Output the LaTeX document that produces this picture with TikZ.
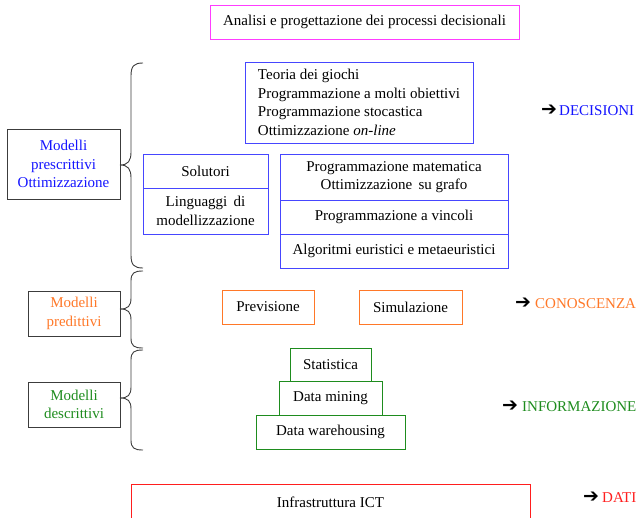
\documentclass[tikz,border=0pt]{standalone}
\usepackage{fontspec}
\setmainfont{Liberation Serif}
\newfontfamily\symfont{DejaVu Sans}
\definecolor{cblue}{RGB}{20,20,255}
\definecolor{bblue}{RGB}{70,70,255}
\definecolor{corange}{RGB}{255,120,40}
\definecolor{cgreen}{RGB}{30,140,30}
\definecolor{cpink}{RGB}{255,60,255}
\definecolor{cred}{RGB}{255,30,30}
\definecolor{cgray}{RGB}{60,60,60}
\begin{document}
\begin{tikzpicture}[x=1pt,y=-1pt,
  every node/.style={font=\fontsize{15}{18.5}\selectfont, inner sep=0pt},
  box/.style={draw, line width=0.9pt, align=center},
  bluebox/.style={box, draw=bblue},
  orbox/.style={box, draw=corange},
  grbox/.style={box, draw=cgreen},
  leftbox/.style={box, draw=cgray},
  brace/.style={draw=cgray, line width=0.9pt},
  outlabel/.style={anchor=west},
  arr/.style={anchor=west, font=\symfont\bfseries\fontsize{19}{19}\selectfont}
]
\useasboundingbox (0,0) rectangle (636,518);

% title
\node[box, draw=cpink, minimum width=309, minimum height=34] (title) at (364.5,22) {Analisi e progettazione dei processi decisionali};

% prescriptive
\node[leftbox, minimum width=113, minimum height=70, text=cblue] (presc) at (63.5,164) {Modelli\\prescrittivi\\Ottimizzazione};
\node[bluebox, minimum width=228, minimum height=81, align=left] (teoria) at (359,102.5)
  {Teoria dei giochi\\Programmazione a molti obiettivi\\Programmazione stocastica\\Ottimizzazione {\itshape on-line}};
\node[bluebox, minimum width=125, minimum height=34] (solutori) at (205.5,171) {Solutori};
\node[bluebox, minimum width=125, minimum height=46] (linguaggi) at (205.5,211) {Linguaggi\, di\\modellizzazione};
\node[bluebox, minimum width=228, minimum height=46] (progmat) at (394,177) {Programmazione matematica\\Ottimizzazione\, su grafo};
\node[bluebox, minimum width=228, minimum height=34] (progvin) at (394,217) {Programmazione a vincoli};
\node[bluebox, minimum width=228, minimum height=34] (algo) at (394,251) {Algoritmi euristici e metaeuristici};
\node[arr] (a1) at (541,110) {➔};
\node[outlabel, text=cblue] (decisioni) at (559,111) {DECISIONI};

% predictive
\node[leftbox, minimum width=92, minimum height=45, text=corange] (pred) at (74,313.5) {Modelli\\predittivi};
\node[orbox, minimum width=92, minimum height=34] (previsione) at (268,307) {Previsione};
\node[orbox, minimum width=103, minimum height=34] (simulazione) at (410.5,307) {Simulazione};
\node[arr] (a2) at (515,303) {➔};
\node[outlabel, text=corange] (conoscenza) at (535,304) {CONOSCENZA};

% descriptive
\node[leftbox, minimum width=92, minimum height=45, text=cgreen] (descr) at (74,404.5) {Modelli\\descrittivi};
\node[grbox, minimum width=81, minimum height=33] (statistica) at (330.5,364.5) {Statistica};
\node[grbox, minimum width=103, minimum height=34] (datamining) at (330.5,398) {Data mining};
\node[grbox, minimum width=149, minimum height=34] (datawh) at (330.5,432) {Data warehousing};
\node[arr] (a3) at (502,406) {➔};
\node[outlabel, text=cgreen] (informazione) at (522,407) {INFORMAZIONE};

% ICT
\node[box, draw=cred, minimum width=399, minimum height=36] (infra) at (330.5,502) {Infrastruttura ICT};
\node[arr] (a4) at (583,497) {➔};
\node[outlabel, text=cred] (dati) at (602,498) {DATI};

% braces
\draw[brace] (143,63) .. controls (134,63) and (131,66) .. (131,76) -- (131,152)
  .. controls (131,161) and (128,165) .. (120,165)
  .. controls (128,165) and (131,169) .. (131,178) -- (131,255)
  .. controls (131,265) and (134,268) .. (143,268);
\draw[brace] (143,271) .. controls (134,271) and (131,273) .. (131,281) -- (131,298)
  .. controls (131,306) and (128,309) .. (120,309)
  .. controls (128,309) and (131,312) .. (131,320) -- (131,338)
  .. controls (131,346) and (134,348) .. (143,348);
\draw[brace] (143,350) .. controls (134,350) and (131,352) .. (131,360) -- (131,387)
  .. controls (131,395) and (128,398) .. (120,398)
  .. controls (128,398) and (131,401) .. (131,409) -- (131,440)
  .. controls (131,448) and (134,450) .. (143,450);
\end{tikzpicture}
\end{document}
